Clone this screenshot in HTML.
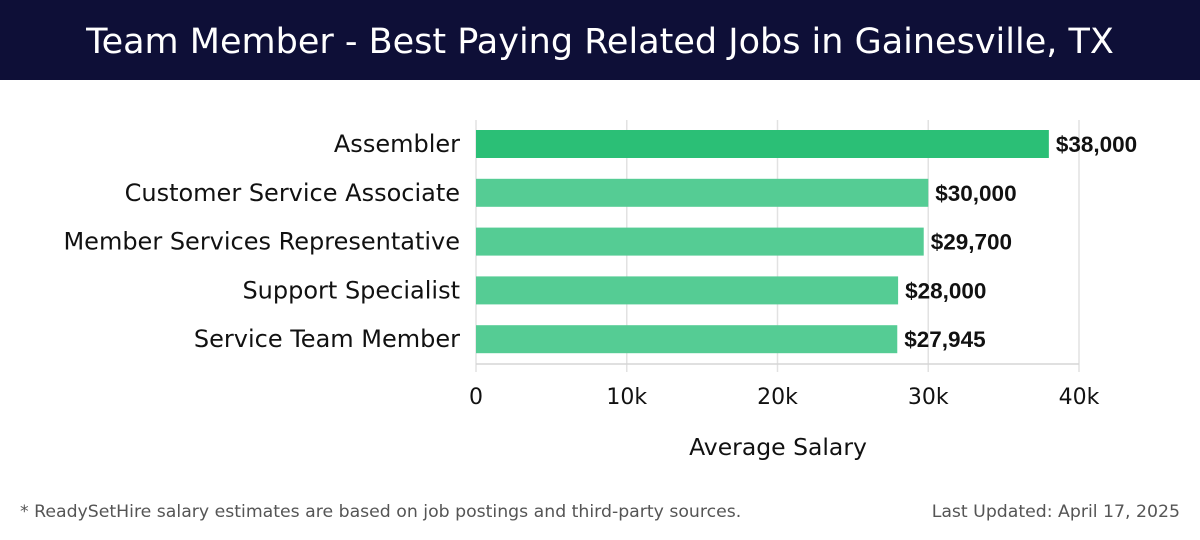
<!DOCTYPE html>
<html><head><meta charset="utf-8"><style>
body{margin:0;width:1200px;height:540px;background:#fff;font-family:"DejaVu Sans","Liberation Sans",sans-serif;overflow:hidden;position:relative}
#hdr{position:absolute;left:0;top:0;width:1200px;height:80px;background:#0e0f37;color:#fff;font-size:35px;text-align:center;line-height:84px;font-family:"DejaVu Sans","Liberation Sans",sans-serif;font-weight:normal}
.foot{position:absolute;top:502px;font-size:17.3px;color:#555}
</style></head><body>
<div id="hdr">Team Member - Best Paying Related Jobs in Gainesville, TX</div>
<svg id="chart" width="1200" height="540" style="position:absolute;left:0;top:0"></svg>
<div class="foot" style="left:20px">* ReadySetHire salary estimates are based on job postings and third-party sources.</div>
<div class="foot" style="right:20px">Last Updated: April 17, 2025</div>
<script>
const categories=["Assembler","Customer Service Associate","Member Services Representative","Support Specialist","Service Team Member"];
const values=[38000,30000,29700,28000,27945];
const valueLabels=["$38,000","$30,000","$29,700","$28,000","$27,945"];
const ticks=[0,10000,20000,30000,40000];
const tickLabels=["0","10k","20k","30k","40k"];
const NS="http://www.w3.org/2000/svg";
const svg=document.getElementById('chart');
const x0=476,x1=1079,xMax=40000;
const xs=v=>x0+(v/xMax)*(x1-x0);
const top0=120,step=48.8,barH=28;
function mk(t,a,txt){const e=document.createElementNS(NS,t);for(const k in a)e.setAttribute(k,a[k]);if(txt!=null)e.textContent=txt;svg.appendChild(e);return e;}
ticks.forEach((t,i)=>{
 const g=mk('line',{x1:xs(t),x2:xs(t),y1:top0,y2:372,stroke:'#e2e2e2','stroke-width':1.5});
 
 
 const l=mk('text',{x:xs(t),y:404,'text-anchor':'middle','font-size':22,fill:'#111'},tickLabels[i]);
 
 
});
const ax=mk('line',{x1:x0,x2:x1,y1:364,y2:364,stroke:'#d5d5d5','stroke-width':1.5});


categories.forEach((c,i)=>{
 const y=top0+10+i*step;
 const b=mk('rect',{x:x0,y:y,width:xs(values[i])-x0,height:barH,fill:i==0?'#2bbf76':'#55cc94'});
 
 
 const l=mk('text',{x:460,y:y+22,'text-anchor':'end','font-size':24,fill:'#111'},c);
 
 
 const v=mk('text',{x:xs(values[i])+7,y:y+22,'font-size':22.5,'font-weight':'bold','font-family':'"Liberation Sans",sans-serif',fill:'#111'},valueLabels[i]);
 
 
});
const at=mk('text',{x:778,y:455,'text-anchor':'middle','font-size':23.5,fill:'#111'},'Average Salary');


</script>
</body></html>
